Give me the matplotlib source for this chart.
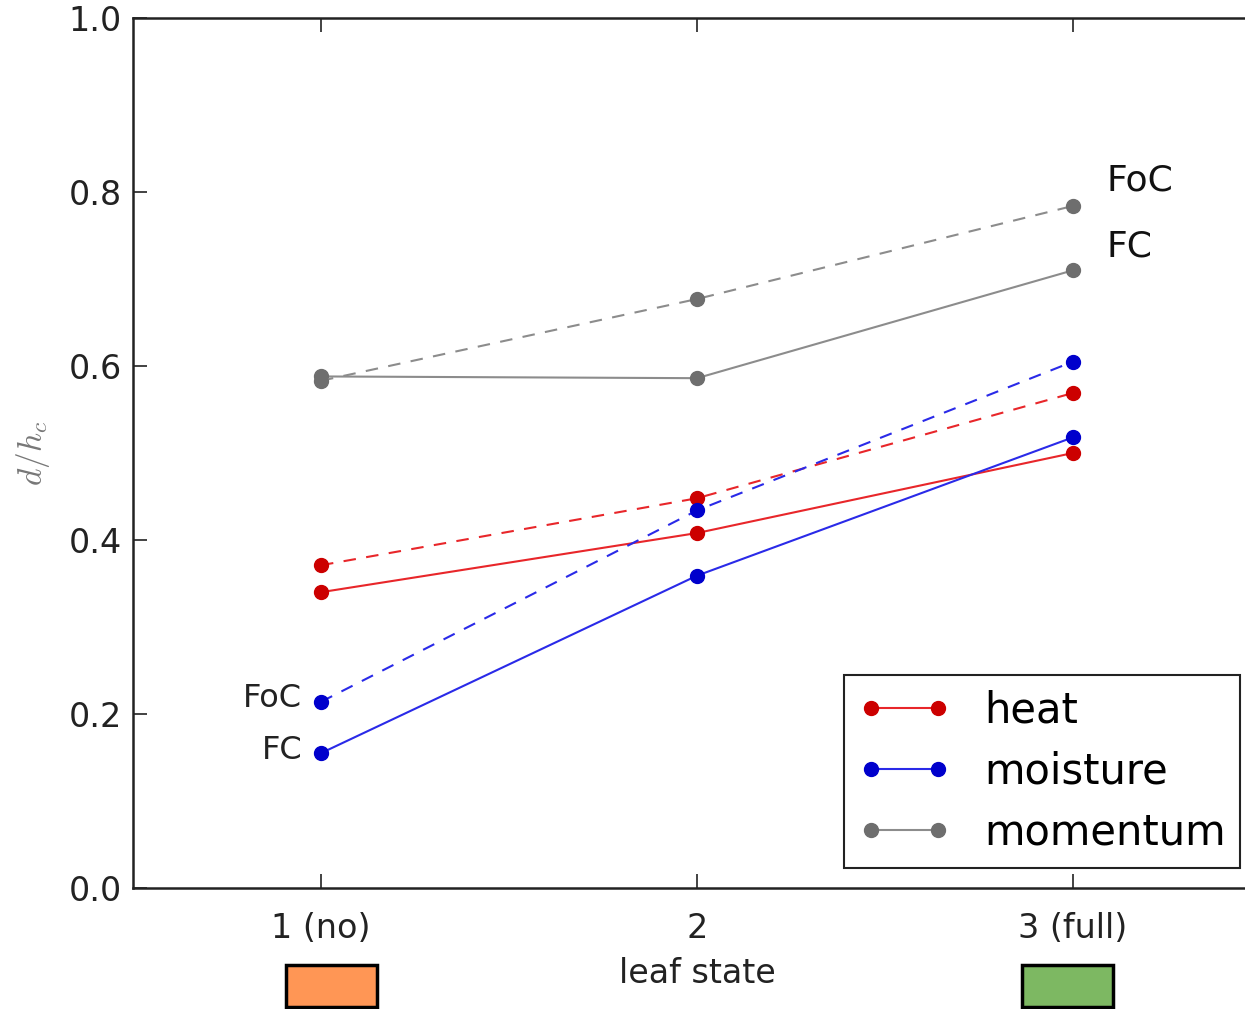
import matplotlib
matplotlib.use("Agg")
import matplotlib.pyplot as plt
from matplotlib.patches import Rectangle

plt.rcParams["mathtext.fontset"] = "cm"

x = [1, 2, 3]
xticklabels = ["1 (no)", "2", "3 (full)"]
yticks = [0.0, 0.2, 0.4, 0.6, 0.8, 1.0]

heat_fc = [0.340, 0.408, 0.500]
heat_foc = [0.371, 0.448, 0.569]
moist_fc = [0.155, 0.359, 0.518]
moist_foc = [0.214, 0.434, 0.605]
mom_fc = [0.588, 0.586, 0.710]
mom_foc = [0.583, 0.677, 0.784]

fig = plt.figure(figsize=(12.45, 10.09), dpi=100)
ax = fig.add_axes([133/1245, 1-888/1009, (1261-133)/1245, (888-18)/1009])

styles = [
    ("heat", heat_fc, heat_foc, "#e8262a", "#cc0000"),
    ("moisture", moist_fc, moist_foc, "#2a2ae8", "#0000cc"),
    ("momentum", mom_fc, mom_foc, "#8c8c8c", "#6e6e6e"),
]
handles = []
for name, fc, foc, lc, mc in styles:
    h, = ax.plot(x, fc, "-", color=lc, lw=1.5, marker="o", ms=10,
                 mfc=mc, mec=mc, label=name)
    ax.plot(x, foc, "--", color=lc, lw=1.5, marker="o", ms=10,
            mfc=mc, mec=mc, dashes=(6, 5))
    handles.append(h)

ax.set_xlim(0.5, 3.5)
ax.set_ylim(0, 1.0)
ax.set_xticks(x)
ax.set_xticklabels(xticklabels)
ax.set_yticks(yticks)
ax.set_yticklabels([f"{v:.1f}" for v in yticks])
ax.tick_params(direction="in", length=10, width=1.2, top=True, right=True,
               labelsize=24, colors="#222222")
ax.tick_params(axis="y", pad=8)
ax.tick_params(axis="x", pad=17)
for s in ax.spines.values():
    s.set_linewidth(1.8)
    s.set_color("#222222")

ax.set_xlabel("leaf state", fontsize=24, color="#222222", labelpad=9)
ax.set_ylabel(r"$d/h_c$", fontsize=24, color="#777777", labelpad=12)

ax.text(3.09, 0.813, "FoC", fontsize=26, ha="left", va="center", color="#111111")
ax.text(3.09, 0.737, "FC", fontsize=26, ha="left", va="center", color="#111111")
ax.text(0.95, 0.218, "FoC", fontsize=23, ha="right", va="center", color="#222222")
ax.text(0.95, 0.158, "FC", fontsize=23, ha="right", va="center", color="#222222")

leg = ax.legend(handles=handles, loc="lower right", numpoints=2,
                bbox_to_anchor=(1240/1245, 1-868/1009),
                bbox_transform=fig.transFigure, borderaxespad=0,
                fontsize=30, fancybox=False, framealpha=1,
                handlelength=2.2, handletextpad=0.8, labelspacing=0.45,
                borderpad=0.35)
leg.get_frame().set_edgecolor("#222222")
leg.get_frame().set_linewidth(1.5)

fig.patches.append(Rectangle((286/1245, 1-1007/1009), 91/1245, 42/1009,
                             transform=fig.transFigure, facecolor="#ff9655",
                             edgecolor="black", lw=2.5))
fig.patches.append(Rectangle((1022/1245, 1-1007/1009), 91/1245, 42/1009,
                             transform=fig.transFigure, facecolor="#7db862",
                             edgecolor="black", lw=2.5))

fig.savefig("out.png", dpi=100)
